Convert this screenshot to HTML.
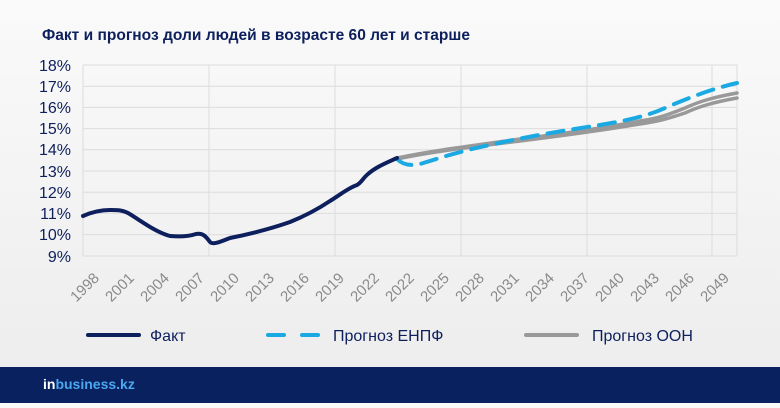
<!DOCTYPE html>
<html><head><meta charset="utf-8"><style>
html,body{margin:0;padding:0;}
body{width:780px;height:403px;overflow:hidden;background:linear-gradient(180deg,#fafafa 0%,#ececec 100%);font-family:"Liberation Sans",sans-serif;}
</style></head><body>
<svg width="780" height="403" viewBox="0 0 780 403" xmlns="http://www.w3.org/2000/svg" font-family="Liberation Sans, sans-serif">
<text x="42" y="40" font-size="16" font-weight="bold" fill="#0d1f5c" textLength="428" lengthAdjust="spacingAndGlyphs">Факт и прогноз доли людей в возрасте 60 лет и старше</text>
<g stroke="#dcdcdc" stroke-width="1">
<line x1="83" y1="65" x2="737" y2="65"/><line x1="83" y1="86.2" x2="737" y2="86.2"/><line x1="83" y1="107.4" x2="737" y2="107.4"/><line x1="83" y1="128.6" x2="737" y2="128.6"/><line x1="83" y1="149.8" x2="737" y2="149.8"/><line x1="83" y1="171" x2="737" y2="171"/><line x1="83" y1="192.2" x2="737" y2="192.2"/><line x1="83" y1="213.4" x2="737" y2="213.4"/><line x1="83" y1="234.6" x2="737" y2="234.6"/><line x1="83" y1="256" x2="737" y2="256"/>
<line x1="83" y1="65" x2="83" y2="256"/><line x1="209" y1="65" x2="209" y2="256"/><line x1="335" y1="65" x2="335" y2="256"/><line x1="461" y1="65" x2="461" y2="256"/><line x1="587" y1="65" x2="587" y2="256"/><line x1="712" y1="65" x2="712" y2="256"/><line x1="737" y1="65" x2="737" y2="256"/>
</g>
<g font-size="16" fill="#0d1f5c" text-anchor="end">
<text x="71" y="71">18%</text><text x="71" y="92">17%</text><text x="71" y="113">16%</text><text x="71" y="134">15%</text><text x="71" y="155">14%</text><text x="71" y="177">13%</text><text x="71" y="198">12%</text><text x="71" y="219">11%</text><text x="71" y="240">10%</text><text x="71" y="262">9%</text>
</g>
<g font-size="15" fill="#8a8a8a" text-anchor="end">
<text transform="translate(100,279) rotate(-45)">1998</text>
<text transform="translate(135,279) rotate(-45)">2001</text>
<text transform="translate(170,279) rotate(-45)">2004</text>
<text transform="translate(205,279) rotate(-45)">2007</text>
<text transform="translate(240,279) rotate(-45)">2010</text>
<text transform="translate(275,279) rotate(-45)">2013</text>
<text transform="translate(310,279) rotate(-45)">2016</text>
<text transform="translate(345,279) rotate(-45)">2019</text>
<text transform="translate(380,279) rotate(-45)">2022</text>
<text transform="translate(415,279) rotate(-45)">2022</text>
<text transform="translate(450,279) rotate(-45)">2025</text>
<text transform="translate(485,279) rotate(-45)">2028</text>
<text transform="translate(520,279) rotate(-45)">2031</text>
<text transform="translate(555,279) rotate(-45)">2034</text>
<text transform="translate(590,279) rotate(-45)">2037</text>
<text transform="translate(625,279) rotate(-45)">2040</text>
<text transform="translate(660,279) rotate(-45)">2043</text>
<text transform="translate(695,279) rotate(-45)">2046</text>
<text transform="translate(730,279) rotate(-45)">2049</text>
</g>
<g fill="none" stroke-linecap="round" stroke-linejoin="round">
<path d="M397,159 C430,152 470,147 520,141 C560,136 610,129 640,124 C660,121 670,118 685,113 C700,106 715,102 737,98" stroke="#999" stroke-width="3.5"/>
<path d="M397,158 C430,151 470,146 520,139 C560,134 610,127 640,121 C660,118 670,114 685,108 C700,101 715,97 737,93" stroke="#999" stroke-width="3.5"/>
<path d="M397,159 C403,165 410,166 420,164 C440,158 460,151 490,145 C520,138 560,131 600,125 C630,120 650,115 665,108 C690,97 715,88 737,83" stroke="#1aa9e3" stroke-width="4" stroke-dasharray="16,10"/>
<path d="M83,216 C92,212 100,210 110,210 C118,210 122,210 128,213 C140,220 155,232 170,236 C182,237 190,236 196,234 C202,233 205,235 210,242 C213,245 220,242 230,238 C250,234 270,229 290,222 C305,216 318,209 330,201 C340,195 348,188 357,185 C362,182 363,178 368,174 C376,167 386,163 397,158" stroke="#0d1f5c" stroke-width="4"/>
</g>
<g>
<line x1="88" y1="335" x2="139" y2="335" stroke="#0d1f5c" stroke-width="4" stroke-linecap="round"/>
<text x="150" y="341" font-size="16" fill="#0d1f5c">Факт</text>
<line x1="268" y1="335" x2="319" y2="335" stroke="#1aa9e3" stroke-width="4" stroke-linecap="round" stroke-dasharray="16,18"/>
<text x="333" y="341" font-size="16" fill="#0d1f5c">Прогноз ЕНПФ</text>
<line x1="526" y1="335" x2="577" y2="335" stroke="#999" stroke-width="4" stroke-linecap="round"/>
<text x="592" y="341" font-size="16" fill="#0d1f5c">Прогноз ООН</text>
</g>
<rect x="0" y="367" width="780" height="36" fill="#0a2160"/>
<text x="43" y="389" font-size="14" font-weight="bold" fill="#ffffff">in<tspan fill="#4aa8f0">business.kz</tspan></text>
</svg>
</body></html>
